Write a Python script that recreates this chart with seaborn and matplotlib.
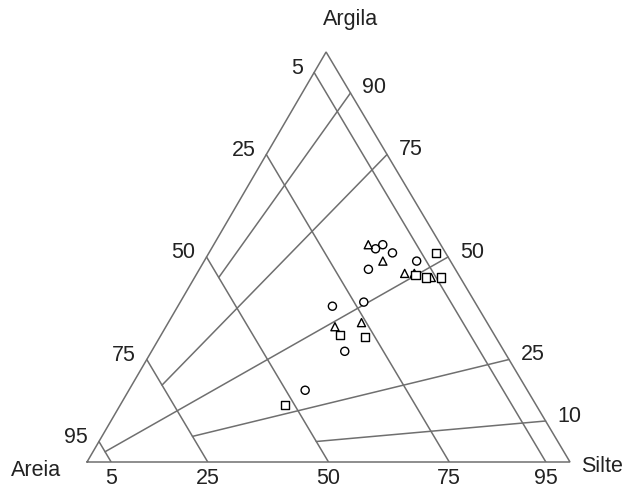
import matplotlib
matplotlib.use("Agg")
import matplotlib.pyplot as plt
import numpy as np
import pandas as pd
import seaborn as sns

# Granulometry of the samples (% areia, % silte, % argila), one list per group
circ_areia = [12, 14, 11, 18, 7, 30, 23, 33, 46]
circ_silte = [35, 34, 38, 35, 44, 32, 38, 40, 36.5]
circ_argila = [53, 52, 51, 47, 49, 38, 39, 27, 17.5]

tri_areia = [15, 14, 11, 9, 6, 32, 26]
tri_silte = [32, 37, 43, 45, 49, 35, 40]
tri_argila = [53, 49, 46, 46, 45, 33, 34]

sq_areia = [2, 9, 7, 4, 32, 27, 52]
sq_silte = [47, 45.5, 48, 51, 37, 42.5, 34]
sq_argila = [51, 45.5, 45, 45, 31, 30.5, 14]

# Class boundaries: sand percentages and clay share of the mud fraction
sand_ticks = [5, 25, 50, 75, 95]
silt_ticks = [5, 25, 50, 75, 95]
clay_ratio_ticks = [90, 75, 50, 25, 10]
ratio_line_stop = [50, 75, 95, 75, 50]  # sand % at which each ratio line ends

APEX_X = 0.495
LINE_COLOR = "#6f6f6f"


def to_xy(areia, silte, argila):
    areia = np.asarray(areia, float)
    silte = np.asarray(silte, float)
    argila = np.asarray(argila, float)
    tot = areia + silte + argila
    c = argila / tot
    s = silte / tot
    return s + c * APEX_X, c


sns.set_theme(style="white")
plt.rcParams["font.family"] = ["Liberation Sans", "DejaVu Sans"]

fig = plt.figure(figsize=(6.23, 4.87), dpi=100)
ax = fig.add_axes([87 / 623, 25 / 487, 483 / 623, 410 / 487])
ax.set_xlim(0, 1)
ax.set_ylim(0, 1)
ax.axis("off")

lw = 1.1

# Triangle outline
ox, oy = to_xy([100, 0, 0, 100], [0, 100, 0, 0], [0, 0, 100, 0])
ax.plot(ox, oy, color=LINE_COLOR, lw=lw, solid_joinstyle="miter", clip_on=False)

# Constant-sand lines (parallel to the silte–argila side)
for s in sand_ticks:
    lx, ly = to_xy([s, s], [0, 100 - s], [100 - s, 0])
    ax.plot(lx, ly, color=LINE_COLOR, lw=lw)

# Clay/mud ratio lines radiating from the sand corner
for r, stop in zip(clay_ratio_ticks, ratio_line_stop):
    mud = 100 - stop
    lx, ly = to_xy([0, stop], [100 - r, mud * (100 - r) / 100], [r, mud * r / 100])
    ax.plot(lx, ly, color=LINE_COLOR, lw=lw)

fs = 15.5
# Sand labels along the left side
for s in sand_ticks:
    px, py = to_xy([s], [0], [100 - s])
    ax.annotate(str(s), (px[0], py[0]), xytext=(-11, 4), textcoords="offset pixels",
                ha="right", va="center", fontsize=fs, color="#222222", annotation_clip=False)

# Silt labels along the base
for s in silt_ticks:
    px, py = to_xy([100 - s], [s], [0])
    ax.annotate(str(s), (px[0], py[0]), xytext=(0, -16), textcoords="offset pixels",
                ha="center", va="center", fontsize=fs, color="#222222", annotation_clip=False)

# Clay ratio labels along the right side
for r in clay_ratio_ticks:
    px, py = to_xy([0], [100 - r], [r])
    ax.annotate(str(r), (px[0], py[0]), xytext=(12, 5), textcoords="offset pixels",
                ha="left", va="center", fontsize=fs, color="#222222", annotation_clip=False)

# Vertex names
fig.text(351 / 623, 1 - 19 / 487, "Argila", ha="center", va="center", fontsize=fs, color="#222222")
fig.text(36 / 623, 1 - 471 / 487, "Areia", ha="center", va="center", fontsize=fs, color="#222222")
fig.text(602 / 623, 1 - 467 / 487, "Silte", ha="center", va="center", fontsize=fs, color="#222222")

# Samples
frames = []
for name, a, si, c in [("Grupo 1", circ_areia, circ_silte, circ_argila),
                       ("Grupo 2", tri_areia, tri_silte, tri_argila),
                       ("Grupo 3", sq_areia, sq_silte, sq_argila)]:
    x, y = to_xy(a, si, c)
    frames.append(pd.DataFrame({"x": x, "y": y, "grupo": name}))
df = pd.concat(frames, ignore_index=True)

sns.scatterplot(data=df, x="x", y="y", style="grupo",
                markers={"Grupo 1": "o", "Grupo 2": "^", "Grupo 3": "s"},
                color="white", edgecolor="black", linewidth=1.0, s=34,
                legend=False, ax=ax, zorder=3)
ax.set_xlabel("")
ax.set_ylabel("")

fig.savefig("out.png", dpi=100)
